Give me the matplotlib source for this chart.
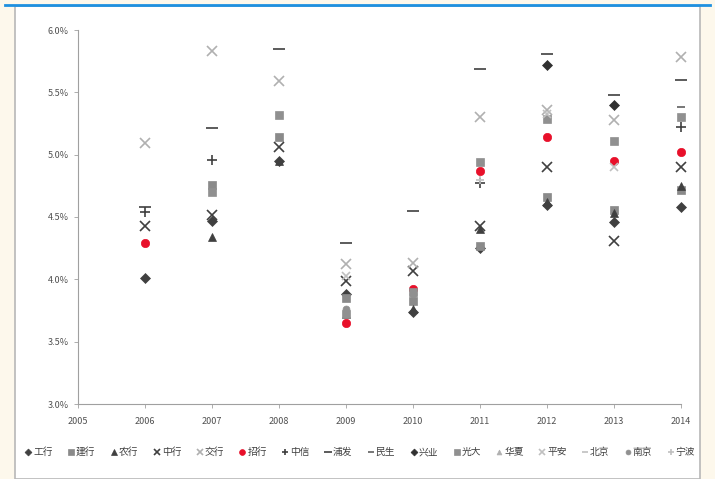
import numpy as np
import matplotlib
matplotlib.use("Agg")
import matplotlib.pyplot as plt
from matplotlib.patches import Rectangle
from matplotlib.lines import Line2D

plt.rcParams['font.family'] = ['Noto Sans CJK SC', 'DejaVu Sans']

years = [2006, 2007, 2008, 2009, 2010, 2011, 2012, 2013, 2014]
nan = np.nan

# net interest margin by bank, percent
banks = ['工行', '建行', '农行', '中行', '交行', '招行', '中信', '浦发',
         '民生', '兴业', '光大', '华夏', '平安', '北京', '南京', '宁波']
gongh = [4.01, 4.47, 4.95, 3.88, 3.74, 4.25, 4.60, 4.46, 4.58]
jianh = [nan, 4.76, 5.14, 3.85, 3.83, 4.27, 4.66, 4.56, 4.72]
nongh = [nan, 4.34, 4.95, 3.72, 3.76, 4.40, 4.62, 4.53, 4.75]
zhongh = [4.43, 4.52, 5.06, 3.99, 4.07, 4.43, 4.90, 4.31, 4.90]
jiaoh = [5.09, 5.83, 5.59, 4.12, 4.13, 5.30, 5.36, 5.28, 5.78]
zhaoh = [4.29, nan, nan, 3.65, 3.92, 4.87, 5.14, 4.95, 5.02]
zhongx = [4.54, 4.96, nan, nan, nan, 4.77, nan, nan, 5.22]
pufa = [4.58, 5.21, 5.85, 4.29, 4.55, 5.69, 5.81, 5.48, 5.60]
minsh = [nan, nan, nan, nan, nan, nan, nan, nan, 5.38]
xingye = [nan, nan, nan, nan, nan, nan, 5.72, 5.40, nan]
guangd = [nan, 4.70, 5.32, 3.72, 3.90, 4.94, 5.29, 5.11, 5.30]
huaxia = [nan, nan, nan, nan, nan, nan, nan, nan, nan]
pingan = [nan, nan, nan, 4.03, nan, nan, 5.33, 4.90, nan]
beijing = [nan, nan, nan, nan, nan, nan, nan, nan, nan]
nanjing = [nan, nan, nan, 3.76, 3.88, nan, nan, nan, nan]
ningbo = [nan, nan, nan, nan, nan, 4.80, nan, nan, nan]

series = [gongh, jianh, nongh, zhongh, jiaoh, zhaoh, zhongx, pufa,
          minsh, xingye, guangd, huaxia, pingan, beijing, nanjing, ningbo]

# marker, colour, size
styles = [
    ('D', '#404040', 5), ('s', '#8a8a8a', 6), ('^', '#404040', 6),
    ('x', '#404040', 6.5), ('x', '#b0b0b0', 6.5), ('o', '#e8102a', 6),
    ('+', '#404040', 6.5), ('_', '#404040', 8), ('_', '#606060', 6),
    ('D', '#303030', 5), ('s', '#909090', 6), ('^', '#b0b0b0', 5),
    ('x', '#c0c0c0', 6), ('_', '#c0c0c0', 6), ('o', '#909090', 5),
    ('+', '#c0c0c0', 6),
]

fig = plt.figure(figsize=(7.15, 4.79), dpi=100)
fig.patch.set_facecolor('#fdf8ec')

# white chart panel with border and blue top line
fig.patches.append(Rectangle((15 / 715, 0), 685 / 715, 473 / 479,
                             transform=fig.transFigure, facecolor='white',
                             edgecolor='#b8b8b8', lw=1.2, zorder=-5))
fig.lines.append(Line2D([5 / 715, 710 / 715], [474 / 479, 474 / 479],
                        transform=fig.transFigure, color='#1e90e0', lw=2,
                        zorder=-4))

ax = fig.add_axes([78 / 715, 75 / 479, 603 / 715, 374 / 479])
ax.set_facecolor('none')
ax.set_zorder(2)

for name, vals, (m, c, s) in zip(banks, series, styles):
    lw = 1.2 if m in ('x', '+', '_') else 0.5
    ax.plot(years, vals, linestyle='none', marker=m, color=c, markersize=s,
            markeredgewidth=lw, label=name, clip_on=False)

ax.set_xlim(2005, 2014)
ax.set_ylim(3.0, 6.0)
ax.set_xticks(range(2005, 2015))
ax.set_yticks(np.arange(3.0, 6.01, 0.5))
ax.set_yticklabels([f'{v:.1f}%' for v in np.arange(3.0, 6.01, 0.5)])
ax.tick_params(axis='both', labelsize=6.5, colors='#505050', length=3,
               width=0.6, color='#a0a0a0')
ax.tick_params(axis='x', pad=6)
for side in ('top', 'right'):
    ax.spines[side].set_visible(False)
for side in ('left', 'bottom'):
    ax.spines[side].set_color('#a0a0a0')
    ax.spines[side].set_linewidth(0.8)

fig.legend(loc='center', bbox_to_anchor=(360 / 715, 27 / 479), ncol=16,
           frameon=False, fontsize=7, handlelength=0.7, handletextpad=0.15,
           columnspacing=1.55, markerscale=0.7, labelcolor='#404040')

fig.savefig('out.png', dpi=100, facecolor=fig.get_facecolor())
